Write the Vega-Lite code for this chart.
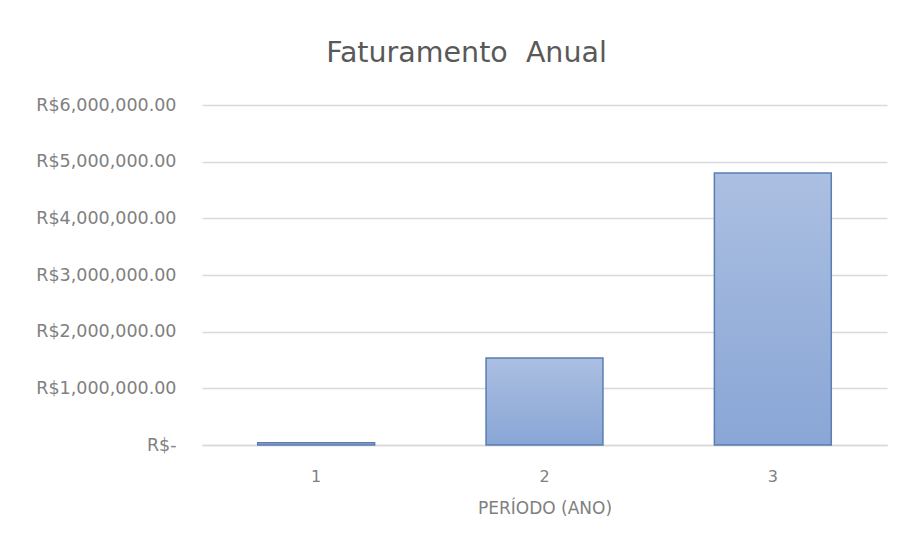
{
  "$schema": "https://vega.github.io/schema/vega-lite/v6.json",
  "autosize": "none",
  "width": 685,
  "height": 340,
  "padding": {"left": 202, "top": 105, "right": 12, "bottom": 101},
  "background": "white",
  "title": {
    "text": "Faturamento\u00a0 Anual",
    "anchor": "middle",
    "dx": -78,
    "offset": 29,
    "fontSize": 28.5,
    "font": "DejaVu Sans",
    "fontWeight": "normal",
    "color": "#595959"
  },
  "data": {
    "values": [
      {"periodo": "1", "faturamento": 40000},
      {"periodo": "2", "faturamento": 1535000},
      {"periodo": "3", "faturamento": 4800000}
    ]
  },
  "mark": {
    "type": "bar",
    "fill": {
      "gradient": "linear",
      "x1": 0, "y1": 0, "x2": 0, "y2": 1,
      "stops": [
        {"offset": 0, "color": "#abbfe1"},
        {"offset": 1, "color": "#89a6d6"}
      ]
    },
    "stroke": "#5b7db2",
    "strokeWidth": 1.5
  },
  "encoding": {
    "x": {
      "field": "periodo",
      "type": "ordinal",
      "scale": {"paddingInner": 0.488, "paddingOuter": 0.244},
      "axis": {
        "title": "PERÍODO (ANO)",
        "labelAngle": 0,
        "labelFont": "DejaVu Sans",
        "labelFontSize": 16,
        "labelColor": "#808080",
        "labelPadding": 23,
        "titleFont": "DejaVu Sans",
        "titleFontSize": 17,
        "titleFontWeight": "normal",
        "titleColor": "#808080",
        "titlePadding": 16,
        "ticks": false,
        "domainColor": "#d9d9d9",
        "domainWidth": 1.5
      }
    },
    "y": {
      "field": "faturamento",
      "type": "quantitative",
      "scale": {"domain": [0, 6000000]},
      "axis": {
        "title": null,
        "values": [0, 1000000, 2000000, 3000000, 4000000, 5000000, 6000000],
        "labelExpr": "datum.value == 0 ? 'R$-' : 'R$' + format(datum.value, ',.2f')",
        "labelFont": "DejaVu Sans",
        "labelFontSize": 17.5,
        "labelColor": "#808080",
        "labelPadding": 26,
        "ticks": false,
        "domain": false,
        "gridColor": "#d9d9d9",
        "gridWidth": 1.5
      }
    }
  },
  "config": {
    "view": {"stroke": null}
  }
}
